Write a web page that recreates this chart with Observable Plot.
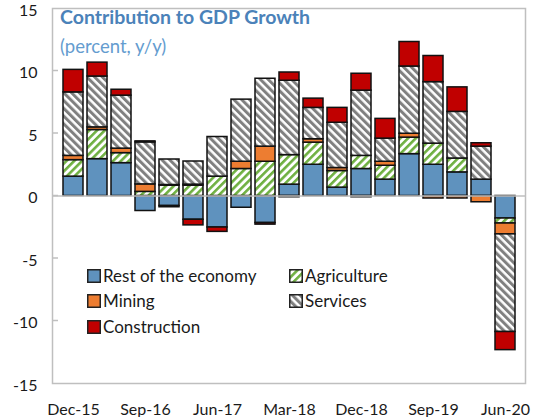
<!DOCTYPE html>
<html><head><meta charset="utf-8">
<script src="https://cdn.jsdelivr.net/npm/d3@7"></script>
<script src="https://cdn.jsdelivr.net/npm/@observablehq/plot@0.6"></script>
<style>
body{margin:0;background:#fff;font-family:Lato,sans-serif;}
#wrap{position:relative;width:539px;height:417px;overflow:hidden;}
.title{position:absolute;left:60px;top:6px;font-weight:bold;font-size:19.5px;line-height:22px;color:#4b82b9;white-space:nowrap;}
.sub{position:absolute;left:60px;top:35px;font-size:18.5px;line-height:22px;color:#649ccf;white-space:nowrap;}
.leg{position:absolute;font-size:17px;line-height:20px;color:#1a1a1a;display:flex;align-items:center;white-space:nowrap;}
.leg svg{margin-right:2px;}
</style></head>
<body><div id="wrap">
<svg width="0" height="0" style="position:absolute"><defs>
<pattern id="agri" patternUnits="userSpaceOnUse" width="5.5" height="5.5" patternTransform="rotate(45)"><rect width="5.5" height="5.5" fill="#fff"/><rect width="2.6" height="5.5" fill="#6fb041"/></pattern>
<pattern id="serv" patternUnits="userSpaceOnUse" width="5.5" height="5.5" patternTransform="rotate(-45)"><rect width="5.5" height="5.5" fill="#fff"/><rect width="3" height="5.5" fill="#808080"/></pattern>
</defs></svg>
</div>
<script>
const dates = ["Dec-15","Mar-16","Jun-16","Sep-16","Dec-16","Mar-17","Jun-17","Sep-17","Dec-17","Mar-18","Jun-18","Sep-18","Dec-18","Mar-19","Jun-19","Sep-19","Dec-19","Mar-20","Jun-20"];
const tickLabels = ["Dec-15","Sep-16","Jun-17","Mar-18","Dec-18","Sep-19","Jun-20"];
const yTicks = [-15,-10,-5,0,5,10,15];
const sectors = ["Rest of the economy","Agriculture","Mining","Services","Construction"];
const rest     = [1.55, 2.95, 2.63, -1.2, -0.8, -1.9, -2.52, -0.94, -2.16, 0.91, 2.5, 0.67, 2.16, 1.31, 3.35, 2.5, 1.89, 1.31, -1.8];
const agri     = [1.32, 2.33, 0.8, 0.33, 0.83, 0.83, 1.55, 2.16, 2.74, 2.36, 1.77, 1.33, 1.05, 1.11, 1.32, 1.69, 1.11, 0, -0.4];
const mining   = [0.34, 0.21, 0.36, 0.6, 0.05, 0.08, 0, 0.58, 1.21, -0.1, 0.27, 0.24, -0.1, 0.32, 0.31, -0.2, -0.2, -0.5, -0.87];
const services = [5.08, 4.07, 4.24, 3.36, 2.04, 1.85, 3.17, 4.97, 5.43, 5.95, 2.51, 3.62, 5.22, 1.85, 5.38, 4.92, 3.73, 2.64, -7.81];
const constr   = [1.8, 1.11, 0.47, 0.08, -0.1, -0.45, -0.35, 0, -0.13, 0.66, 0.74, 1.19, 1.35, 1.58, 1.96, 2.09, 1.96, 0.27, -1.45];
const seriesList = [rest, agri, mining, services, constr];
const fills = ["#5f92be", "url(#agri)", "#ed7d31", "url(#serv)", "#c00000"];

const data = [];
sectors.forEach((s, i) => dates.forEach((d, j) => data.push({date: d, sector: s, value: seriesList[i][j]})));

const chart = Plot.plot({
  width: 539, height: 417,
  marginTop: 8, marginBottom: 34, marginLeft: 52, marginRight: 14,
  style: {fontFamily: "Lato, sans-serif", fontSize: "16px", color: "#1a1a1a", background: "#fff"},
  x: {domain: dates, paddingInner: 0.167, paddingOuter: 0.1, label: null},
  y: {domain: [-15, 15], label: null},
  color: {type: "ordinal", domain: sectors, range: fills},
  marks: [
    Plot.barY(data, Plot.stackY({x: "date", y: "value", fill: "sector", stroke: "#111", strokeWidth: 1.5})),
    Plot.ruleY([0], {stroke: "#bfbfbf", strokeWidth: 1.5}),
    Plot.frame({stroke: "#bfbfbf", strokeWidth: 1.5}),
    Plot.axisX({ticks: tickLabels, tickSize: 0, tickPadding: 20, label: null}),
    Plot.axisY({ticks: yTicks, tickSize: 0, tickPadding: 15, dy: 2, tickFormat: d => String(d), label: null})
  ]
});
const wrap = document.getElementById("wrap");
wrap.appendChild(chart);

// inner tick marks on the left frame
const ys = chart.scale("y");
const xs0 = 52;
d3.select(chart).append("g").selectAll("line").data(yTicks.filter(v => v !== 15 && v !== -15)).join("line")
  .attr("x1", xs0).attr("x2", xs0 + 6)
  .attr("y1", d => ys.apply(d)).attr("y2", d => ys.apply(d))
  .attr("stroke", "#bfbfbf").attr("stroke-width", 1.5);

// title & subtitle
const t = document.createElement("div"); t.className = "title"; t.textContent = "Contribution to GDP Growth"; wrap.appendChild(t);
const s = document.createElement("div"); s.className = "sub"; s.textContent = "(percent, y/y)"; wrap.appendChild(s);

// legend
const legPos = [[87, 266], [289, 266], [87, 291], [289, 291], [87, 317]];
const legOrder = ["Rest of the economy","Agriculture","Mining","Services","Construction"];
legOrder.forEach((name, k) => {
  const i = sectors.indexOf(name);
  const el = document.createElement("div");
  el.className = "leg";
  el.style.left = legPos[k][0] + "px";
  el.style.top = legPos[k][1] + "px";
  el.innerHTML = `<svg width="14" height="14"><rect x="0.75" y="0.75" width="12.5" height="12.5" fill="${fills[i]}" stroke="#222" stroke-width="1.5"/></svg><span>${name}</span>`;
  wrap.appendChild(el);
});
</script>
</body></html>
